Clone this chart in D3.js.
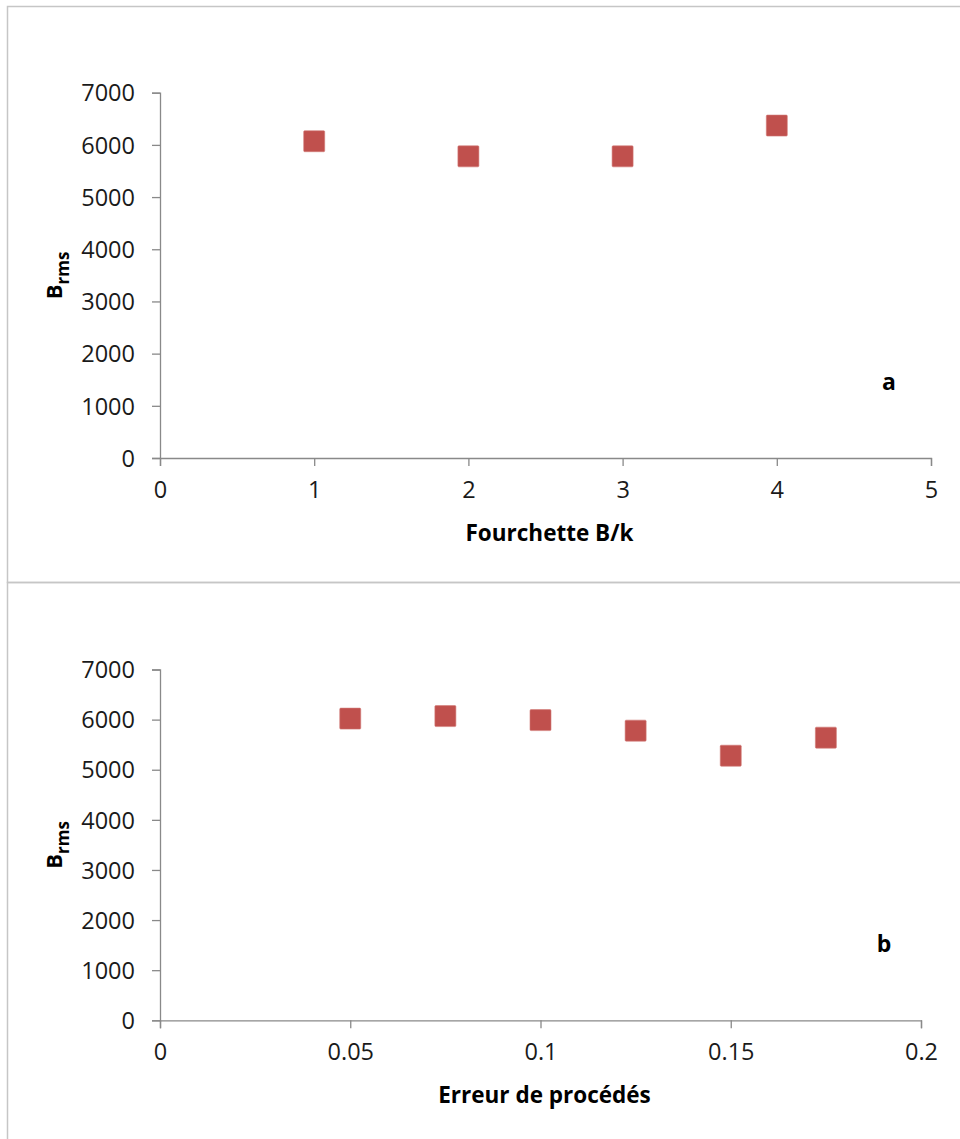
<!DOCTYPE html>
<html>
<head>
<meta charset="utf-8">
<script src="https://cdn.jsdelivr.net/npm/d3@7"></script>
<style>
  html, body { margin: 0; padding: 0; background: #fff; }
  svg { display: block; }
</style>
</head>
<body>
<svg id="chart" width="960" height="1139"></svg>
<script>
// Panel a: B_rms against the B/k range
const rangeBk = [1, 2, 3, 4];
const brmsRange = [6070, 5780, 5780, 6370];

// Panel b: B_rms against the process error
const processError = [0.05, 0.075, 0.1, 0.125, 0.15, 0.175];
const brmsError = [6020, 6070, 5990, 5780, 5280, 5640];

// Tick values
const yTicks = [0, 1000, 2000, 3000, 4000, 5000, 6000, 7000];
const xTicksA = [0, 1, 2, 3, 4, 5];
const xTicksB = [0, 0.05, 0.1, 0.15, 0.2];

const svg = d3.select("#chart");
const FONT = "'Open Sans', 'Noto Sans', sans-serif";
const AXIS = "#898989";
const MARK = "#C0504D";

// Panel frames
svg.append("rect").attr("x", 7.5).attr("y", 6.5).attr("width", 960).attr("height", 576)
  .attr("fill", "none").attr("stroke", "#c6c6c6").attr("stroke-width", 1.5);
svg.append("rect").attr("x", 7.5).attr("y", 582.5).attr("width", 960).attr("height", 600)
  .attr("fill", "none").attr("stroke", "#c6c6c6").attr("stroke-width", 1.5);

function panel(cfg) {
  const g = svg.append("g");
  const x = d3.scaleLinear().domain(cfg.xDomain).range([cfg.left, cfg.right]);
  const y = d3.scaleLinear().domain([0, 7000]).range([cfg.bottom, cfg.top]);

  const yAxis = g.append("g")
    .attr("transform", `translate(${cfg.left},0)`)
    .call(d3.axisLeft(y).tickValues(yTicks).tickSize(8).tickPadding(17).tickFormat(d3.format("d")));
  const xAxis = g.append("g")
    .attr("transform", `translate(0,${cfg.bottom})`)
    .call(d3.axisBottom(x).tickValues(cfg.xTicks).tickSize(8).tickPadding(15).tickFormat(cfg.xFormat));

  [yAxis, xAxis].forEach(a => {
    a.select(".domain").attr("stroke", AXIS).attr("stroke-width", 1.3);
    a.selectAll(".tick line").attr("stroke", AXIS).attr("stroke-width", 1.3);
    a.selectAll(".tick text").attr("fill", "#1a1a1a")
      .style("font-family", FONT).style("font-size", "23.5px");
  });
  yAxis.selectAll(".tick text").attr("dy", "0.35em");

  // Markers
  g.selectAll("rect.pt").data(cfg.xs).enter().append("rect")
    .attr("class", "pt")
    .attr("x", d => x(d) - 10.5)
    .attr("y", (d, i) => y(cfg.ys[i]) - 10.5)
    .attr("width", 21).attr("height", 21)
    .attr("rx", 1)
    .attr("fill", MARK).attr("stroke", "#d27a77").attr("stroke-width", 0.6);

  // Axis titles
  g.append("text")
    .attr("x", (cfg.left + cfg.right) / 2 + 4).attr("y", cfg.bottom + 83)
    .attr("text-anchor", "middle")
    .style("font-family", FONT).style("font-size", "22.5px").style("font-weight", "bold")
    .attr("fill", "#000").text(cfg.xTitle);

  const yt = g.append("text")
    .attr("transform", `translate(62,${(cfg.top + cfg.bottom) / 2}) rotate(-90)`)
    .attr("text-anchor", "middle")
    .style("font-family", FONT).style("font-weight", "bold").attr("fill", "#000");
  yt.append("tspan").style("font-size", "22px").text("B");
  yt.append("tspan").style("font-size", "17px").attr("dy", 7).text("rms");

  // Panel letter
  g.append("text")
    .attr("x", cfg.letterX).attr("y", cfg.letterY)
    .attr("text-anchor", "middle")
    .style("font-family", FONT).style("font-size", "23px").style("font-weight", "bold")
    .attr("fill", "#000").text(cfg.letter);
}

panel({
  xDomain: [0, 5], xTicks: xTicksA, xFormat: d3.format("d"),
  left: 160, right: 931, top: 92.7, bottom: 458,
  xs: rangeBk, ys: brmsRange,
  xTitle: "Fourchette B/k", letter: "a", letterX: 889, letterY: 390
});

panel({
  xDomain: [0, 0.2], xTicks: xTicksB, xFormat: d => d === 0 ? "0" : String(d),
  left: 160, right: 921, top: 669.5, bottom: 1020.3,
  xs: processError, ys: brmsError,
  xTitle: "Erreur de procédés", letter: "b", letterX: 884, letterY: 952
});
</script>
</body>
</html>
